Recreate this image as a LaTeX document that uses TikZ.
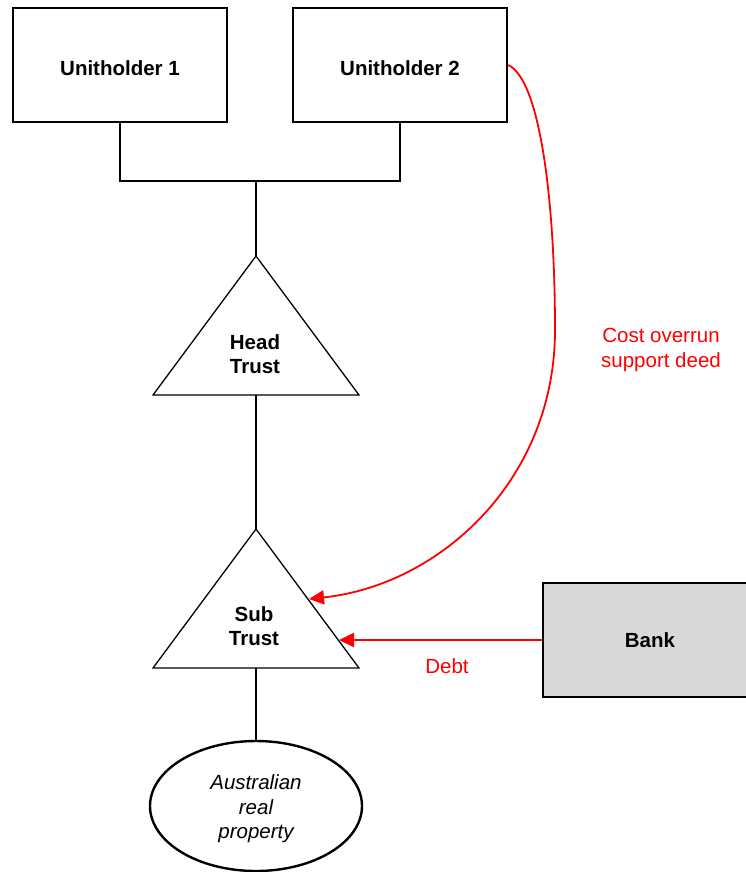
\documentclass[tikz,border=0pt]{standalone}
\usepackage{fontspec}
\setmainfont{Liberation Sans}
\usetikzlibrary{shapes.geometric,arrows.meta}
\begin{document}
\begin{tikzpicture}[x=1pt,y=-1pt,
  lbl/.style={font=\fontsize{20.5}{24.5}\selectfont\bfseries, align=center},
  box/.style={draw, line width=2.6pt, minimum width=214pt, minimum height=114pt, inner sep=0pt, lbl},
  tri/.style={draw, line width=1.3pt, line join=miter},
  conn/.style={draw, line width=1.8pt},
  redarrow/.style={draw=red, line width=1.8pt, -{Triangle[length=15pt,width=14pt]}},
  redlbl/.style={text=red, font=\fontsize{20.5}{25}\selectfont, align=center}]
\useasboundingbox (0,0) rectangle (745,872);
% unitholders
\node[box, label={[lbl,yshift=-3pt]center:Unitholder 1}] (u1) at (120,65) {};
\node[box, label={[lbl,yshift=-3pt]center:Unitholder 2}] (u2) at (400,65) {};
% junction
\coordinate (j) at (256,181);
% head trust
\coordinate (htA) at (256,256);
\coordinate (htL) at (153,395);
\coordinate (htR) at (359,395);
\coordinate (htB) at (256,395);
\draw[tri] (htA) -- (htR) -- (htL) -- cycle;
\node[lbl] (ht) at (255,354) {Head\\Trust};
% sub trust
\coordinate (stA) at (256,529);
\coordinate (stL) at (153,668);
\coordinate (stR) at (359,668);
\coordinate (stB) at (256,668);
\coordinate (stDebt) at (339,640);
\coordinate (stCost) at (309,599);
\draw[tri] (stA) -- (stR) -- (stL) -- cycle;
\node[lbl] (st) at (254,626) {Sub\\Trust};
% property
\node[draw, ellipse, line width=2.4pt, minimum width=212pt, minimum height=130pt, inner sep=0pt,
      label={[font=\fontsize{20.5}{24.5}\selectfont\itshape, align=center, yshift=-3pt]center:Australian\\real\\property}] (prop) at (256,806) {};
% bank
\node[box, fill={rgb,255:red,217;green,217;blue,217}] (bank) at (650,640) {Bank};
% connectors
\draw[conn] (u1.south) |- (j) -| (u2.south);
\draw[conn] (j) -- (htA);
\draw[conn] (htB) -- (stA);
\draw[conn] (stB) -- (prop.north);
% red arrows
\draw[redarrow] (bank.west) -- (stDebt);
\node[redlbl] (debt) at (447,666) {Debt};
\draw[redarrow] (u2.east) .. controls (540,80) and (555,200) .. (555,330)
   .. controls (555,480) and (440,585) .. (stCost);
\node[redlbl] (cost) at (661,350) {Cost overrun\\support deed};
\end{tikzpicture}
\end{document}
